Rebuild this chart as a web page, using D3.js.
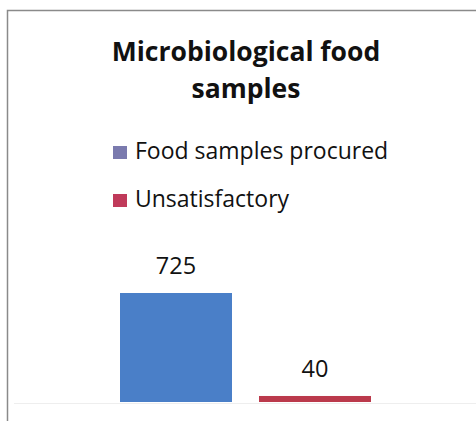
<!DOCTYPE html>
<html>
<head>
<meta charset="utf-8">
<script src="https://cdn.jsdelivr.net/npm/d3@7"></script>
<style>
html,body{margin:0;padding:0;background:#fff;}
svg{display:block;}
text{font-family:"Open Sans",Lato,sans-serif;fill:#111;}
</style>
</head>
<body>
<svg id="chart" width="476" height="421"></svg>
<script>
const titleLines = ["Microbiological food", "samples"];
const series = ["Food samples procured", "Unsatisfactory"];
const values = [725, 40];
const barColors = ["#4a7fc8", "#bb3a4c"];
const swatchColors = ["#7a7aae", "#c03a5a"];

const svg = d3.select("#chart");

// chart border
svg.append("path")
  .attr("d", "M7.5,421 V10.5 H476")
  .attr("fill", "none").attr("stroke", "#8a8a8a").attr("stroke-width", 1.5);

// title
svg.append("g").selectAll("text").data(titleLines).join("text")
  .attr("x", 246).attr("y", (d, i) => 61 + i * 37)
  .attr("text-anchor", "middle")
  .attr("font-size", 26.5).attr("font-weight", "bold")
  .text(d => d);

// legend
const leg = svg.append("g").selectAll("g").data(series).join("g")
  .attr("transform", (d, i) => `translate(113,${146 + i * 48})`);
leg.append("rect").attr("x", 0).attr("y", 0).attr("width", 14).attr("height", 13)
  .attr("fill", (d, i) => swatchColors[i]);
leg.append("text").attr("x", 22).attr("y", 12.5)
  .attr("font-size", 23).text(d => d);

// scales
const x = d3.scaleBand().domain(series).range([120, 371]).paddingInner(27 / 139).paddingOuter(0);
const y = d3.scaleLinear().domain([0, 725]).range([402, 293]);

svg.append("g").selectAll("rect").data(values).join("rect")
  .attr("x", (d, i) => x(series[i]))
  .attr("width", x.bandwidth())
  .attr("y", d => y(d))
  .attr("height", d => y(0) - y(d))
  .attr("fill", (d, i) => barColors[i]);

svg.append("g").selectAll("text").data(values).join("text")
  .attr("x", (d, i) => x(series[i]) + x.bandwidth() / 2)
  .attr("y", d => y(d) - 19)
  .attr("text-anchor", "middle")
  .attr("font-size", 23.5)
  .text(d => d);

// faint baseline
svg.append("line").attr("x1", 14).attr("x2", 476).attr("y1", y(0) + 1.5).attr("y2", y(0) + 1.5)
  .attr("stroke", "#eeeeee").attr("stroke-width", 1);
</script>
</body>
</html>
